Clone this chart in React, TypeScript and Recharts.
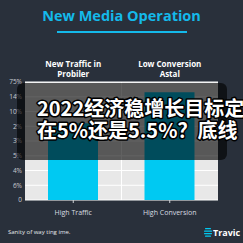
import React from 'react';
import { BarChart, Bar, XAxis, YAxis, CartesianGrid } from 'recharts';

const categories = ['High Traffic', 'High Conversion'];
const headerLine1 = ['New Traffic in', 'Low Conversion'];
const headerLine2 = ['Probiler', 'Astal'];
const values = [5.2, 7.3];
const yTickValues = [0, 1, 2, 3, 4, 5, 6, 7, 8];
const yTickLabels = ['0', '6%', '4%', '5%', '3%', '2%', '10%', '14%', '75%'];
const title = 'New Media Operation';
const footnote = 'Sanity of way ting ime.';
const brand = 'Travic';
const captionLine1 = '2022经济稳增长目标定';
const captionLine2 = '在5%还是5.5%？底线';

const data = categories.map((c, i) => ({
  name: c,
  header: i,
  value: values[i],
}));

const BG = '#29303b';
const CYAN = '#00c9f2';

const TopTick = (props: any) => {
  const { x, y, payload } = props;
  const i = payload.value as number;
  return (
    <text x={x} textAnchor="middle" fill="#ffffff" fontSize={8} fontWeight={700} fontFamily="'Open Sans', sans-serif">
      <tspan x={x} y={y - 15}>{headerLine1[i]}</tspan>
      <tspan x={x} y={y - 5}>{headerLine2[i]}</tspan>
    </text>
  );
};

export default function App() {
  return (
    <div style={{ position: 'fixed', left: 0, top: 0, width: 243, height: 243, background: BG, overflow: 'hidden' }}>
      <div style={{ position: 'absolute', left: 0, top: 0 }}>
        <BarChart width={243} height={243} data={data} margin={{ top: 58, right: 25, bottom: 13, left: 5 }}>
          <CartesianGrid
            fill="#e8e8e8"
            stroke="#ffffff"
            strokeWidth={1}
            verticalCoordinatesGenerator={(p: any) => [p.offset.left + p.offset.width / 2]}
          />
          <XAxis
            xAxisId="top"
            orientation="top"
            dataKey="header"
            height={24}
            axisLine={false}
            tickLine={false}
            tickSize={0}
            tickMargin={0}
            interval={0}
            tick={<TopTick />}
          />
          <XAxis
            dataKey="name"
            height={30}
            axisLine={false}
            tickLine={{ stroke: '#cfd3d8' }}
            tickSize={3}
            tickMargin={7}
            interval={0}
            tick={{ fill: '#d8dce0', fontSize: 7, fontFamily: "'Open Sans', sans-serif" }}
          />
          <YAxis
            width={20}
            domain={[0, 8]}
            ticks={yTickValues}
            interval={0}
            axisLine={false}
            tickLine={false}
            tickSize={0}
            tickMargin={3}
            tickFormatter={(v: number) => yTickLabels[v]}
            tick={{ fill: '#c8ccd2', fontSize: 6.5, fontFamily: "'Open Sans', sans-serif" }}
          />
          <Bar dataKey="value" fill={CYAN} barSize={50} isAnimationActive={false} xAxisId={0} />
        </BarChart>
      </div>

      <div style={{ position: 'absolute', left: 0, top: 6, width: 243, textAlign: 'center', color: '#14b9ea', fontFamily: "'Open Sans', sans-serif", fontWeight: 700, fontSize: 14.5, lineHeight: '20px' }}>
        {title}
      </div>
      <div style={{ position: 'absolute', left: 57, top: 31, width: 130, height: 2, background: '#14b9ea' }} />

      <div style={{ position: 'absolute', left: 17, top: 83, width: 210, height: 77, background: 'rgba(0,0,0,0.62)', borderRadius: 6 }} />
      <svg width={243} height={243} style={{ position: 'absolute', left: 0, top: 0 }}>
        <g fontFamily="'Noto Sans CJK SC', sans-serif" fontWeight={700} fontSize={20} fill="#ffffff" stroke="#000000" strokeWidth={3} strokeLinejoin="round" style={{ paintOrder: 'stroke' } as any}>
          <text x={37} y={116}>{captionLine1}</text>
          <text x={37} y={138}>{captionLine2}</text>
        </g>
        <text x={8} y={234} fill="#e6e8ea" fontSize={6} fontFamily="'Open Sans', sans-serif">{footnote}</text>
        <g fill={CYAN}>
          <rect x={205} y={228} width={6} height={1.3} rx={0.6} />
          <rect x={204} y={230.5} width={8} height={1.3} rx={0.6} />
          <rect x={204} y={233} width={8} height={1.3} rx={0.6} />
          <rect x={205} y={235.5} width={6} height={1.3} rx={0.6} />
        </g>
        <text x={213} y={236} fill="#ffffff" fontSize={9} fontWeight={700} fontFamily="'Open Sans', sans-serif">{brand}</text>
      </svg>
    </div>
  );
}
